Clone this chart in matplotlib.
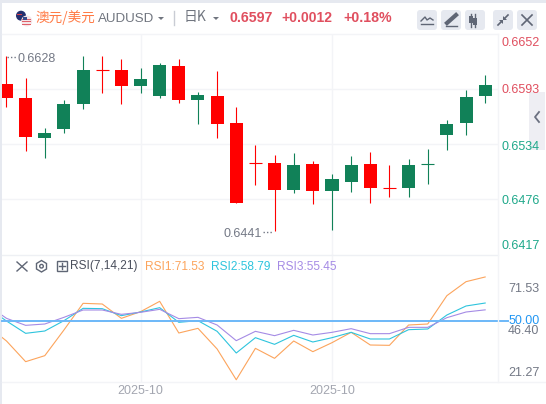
import matplotlib
matplotlib.use("Agg")
import matplotlib.pyplot as plt
from matplotlib.patches import Rectangle, FancyBboxPatch, Circle, Polygon

plt.rcParams['font.family'] = ['Liberation Sans', 'Noto Sans CJK SC', 'DejaVu Sans']

# K线数据
opens  = [0.6598,0.6583,0.6540,0.6550,0.6577,0.6614,0.6613,0.6596,0.6586,0.6618,0.6581,0.6586,0.6556,
          0.6515,0.6514,0.6485,0.6512,0.6484,0.6493,0.6512,0.6488,0.6487,0.6512,0.6544,0.6556,0.6585]
highs  = [0.6628,0.6605,0.6551,0.6581,0.6628,0.6628,0.6625,0.6615,0.6621,0.6625,0.6590,0.6612,0.6574,
          0.6533,0.6522,0.6524,0.6516,0.6502,0.6521,0.6525,0.6511,0.6518,0.6529,0.6560,0.6592,0.6608]
lows   = [0.6574,0.6526,0.6519,0.6546,0.6572,0.6589,0.6577,0.6589,0.6583,0.6578,0.6555,0.6540,0.6471,
          0.6490,0.6441,0.6481,0.6470,0.6442,0.6483,0.6471,0.6477,0.6477,0.6491,0.6528,0.6544,0.6578]
closes = [0.6583,0.6541,0.6546,0.6577,0.6613,0.6613,0.6596,0.6604,0.6619,0.6581,0.6587,0.6555,0.6471,
          0.6514,0.6485,0.6511,0.6484,0.6496,0.6511,0.6487,0.6487,0.6511,0.6513,0.6555,0.6584,0.6597]

# RSI数据，第一个点是左边界外的那根K线
rsi1 = [47.70,40.22,30.11,33.05,45.60,58.64,58.31,51.30,54.56,59.62,44.13,46.41,36.31,21.27,
        36.63,31.74,40.22,35.00,39.40,44.46,38.26,38.10,48.04,48.53,62.39,69.23,71.53]
rsi2 = [56.50,50.00,43.97,45.11,50.16,56.19,56.03,52.61,54.40,56.52,49.35,50.16,44.95,34.35,
        41.85,38.59,42.99,39.73,41.85,44.46,41.20,41.20,45.76,46.09,52.93,57.34,58.79]
rsi3 = [57.80,51.30,47.88,48.53,51.79,55.38,55.38,53.26,54.24,55.70,51.14,51.79,48.04,40.38,
        44.95,42.83,45.44,43.15,44.46,46.25,43.81,43.81,46.90,46.90,51.63,54.40,55.45]

price_grid = [0.6593, 0.6534, 0.6475]
price_labels = ['0.6652', '0.6593', '0.6534', '0.6476', '0.6417']
rsi_labels = ['71.53', '50.00', '46.40', '21.27']
date_ticks = [7, 17]
date_labels = ['2025-10', '2025-10']

W, H = 546, 404
fig = plt.figure(figsize=(W/100, H/100), dpi=100, facecolor='white')

def add_axes_px(x0, y0, x1, y1):
    return fig.add_axes([x0/W, 1-y1/H, (x1-x0)/W, (y1-y0)/H])

RED = '#ff0000'
GREEN = '#118158'
GRID = '#f3f4f7'

# 主图
ax = add_axes_px(2, 34, 498, 254.5)
xlim = (-0.235, 25.67)
for i in range(len(opens)):
    c = GREEN if closes[i] >= opens[i] else RED
    ax.vlines(i, lows[i], highs[i], color=c, lw=0.8, zorder=3)
    if abs(closes[i]-opens[i]) < 0.00015:
        # 十字星，实体只有一条线
        ax.hlines(closes[i], i-0.34, i+0.34, color=c, lw=0.8, zorder=3)
    else:
        ax.bar(i, abs(closes[i]-opens[i]), bottom=min(opens[i], closes[i]), width=0.68, color=c, lw=0, zorder=3)
ax.set_xlim(*xlim)
ax.set_ylim(0.64154, 0.66520)
ax.set_xticks(date_ticks)
ax.set_yticks(price_grid)
ax.grid(color=GRID, lw=1)
ax.set_axisbelow(True)
ax.tick_params(length=0, labelleft=False, labelbottom=False)
for s in ax.spines.values():
    s.set_visible(False)

# RSI副图
rsi_x = list(range(-1, 26))
ax2 = add_axes_px(2, 254.5, 498, 382)
ax2.plot(rsi_x, rsi1, color='#fca45c', lw=0.8, zorder=3)
ax2.plot(rsi_x, rsi2, color='#2ec4dd', lw=0.8, zorder=3)
ax2.plot(rsi_x, rsi3, color='#a58be5', lw=0.8, zorder=5)
ax2.set_xlim(*xlim)
ax2.set_ylim(50-(382-321)*0.489, 50+(321-254.5)*0.489)
ax2.set_xticks(date_ticks)
ax2.set_yticks([])
ax2.grid(axis='x', color=GRID, lw=1)
ax2.set_axisbelow(True)
ax2.tick_params(length=0, labelleft=False, labelbottom=False)
for s in ax2.spines.values():
    s.set_visible(False)

# 覆盖层，坐标单位是像素，放界面元素和文字
ov = fig.add_axes([0, 0, 1, 1], facecolor='none')
ov.set_xlim(0, W)
ov.set_ylim(H, 0)
ov.axis('off')

FRAME = '#e6e9f0'
ov.add_patch(Rectangle((0, 0), W, 2.7, color=FRAME, lw=0))
ov.add_patch(Rectangle((0, 0), 2, H, color=FRAME, lw=0))
ov.plot([2, 498], [34, 34], color=GRID, lw=1)
ov.plot([2, 498], [254.5, 254.5], color='#eef0f4', lw=1)
ov.plot([2, 546], [382, 382], color=GRID, lw=1)
ov.plot([498, 498], [34, 382], color=GRID, lw=1)
ov.plot([2, 508], [321, 321], color='#6db8f8', lw=1.4, zorder=1)

# 右侧收起按钮
ov.add_patch(Rectangle((529, 92), 16, 58, color='#eeeef3', lw=0))
ov.plot([539, 535, 539], [112, 117, 122], color='#6b7080', lw=1.3)

# 旗帜
ov.add_patch(Circle((21, 15.7), 5, color='#24306e', lw=0))
ov.add_patch(Rectangle((17, 14), 5, 1.2, color='#d8404a', lw=0))
ov.add_patch(Circle((26.7, 21), 5.5, color='#f4e4e6', lw=0))
for k in range(3):
    ov.add_patch(Rectangle((22.2, 18.5+k*2.5), 9.2, 1.2, color='#e0606a', lw=0))
ov.add_patch(Rectangle((22.5, 16.5), 4, 3, color='#3a4a8a', lw=0))

GRAY = '#70757f'
HRED = '#e04f5f'
CJK = ['Noto Sans CJK SC', 'DejaVu Sans']
ov.text(36, 18, '澳元/美元', color='#ff7a45', fontsize=9.8, va='center', family=CJK)
ov.text(98, 18.5, 'AUDUSD', color=GRAY, fontsize=9.6, va='center')
ov.add_patch(Polygon([[158, 17], [164, 17], [161, 20]], color=GRAY, lw=0))
ov.plot([174, 174], [11, 25], color='#c9ccd4', lw=1)
ov.text(184, 17.5, '日K', color=GRAY, fontsize=10, va='center', family=CJK)
ov.add_patch(Polygon([[213, 17], [219, 17], [216, 20]], color=GRAY, lw=0))
ov.text(229, 17.5, '0.6597', color=HRED, fontsize=10.2, fontweight='bold', va='center')
ov.text(281, 17.5, '+0.0012', color=HRED, fontsize=10, fontweight='bold', va='center')
ov.text(343, 17.5, '+0.18%', color=HRED, fontsize=10.2, fontweight='bold', va='center')

# 工具栏按钮
ICON = '#5f6675'
for bx in [417, 441, 465, 493, 517]:
    ov.add_patch(FancyBboxPatch((bx+2, 12), 16, 16, boxstyle='round,pad=2,rounding_size=3', color=FRAME, lw=0))
ov.plot([421, 425, 427, 430, 433], [21, 17, 20, 18, 20], color=ICON, lw=1)
ov.plot([421, 433], [24, 24], color=ICON, lw=1)
ov.plot([447, 456], [23, 15], color=ICON, lw=3)
ov.plot([446, 457], [25.5, 25.5], color=ICON, lw=1)
for cx, y0, y1 in [(471, 16, 23), (475, 18, 25)]:
    ov.plot([cx, cx], [14, 27], color=ICON, lw=1)
    ov.add_patch(Rectangle((cx-2, y0), 4, y1-y0, color=ICON, lw=0))
ov.plot([498, 502], [25, 21], color=ICON, lw=1.2)
ov.add_patch(Polygon([[499, 20], [503, 20], [503, 24]], color=ICON, lw=0))
ov.plot([504, 508], [19, 15], color=ICON, lw=1.2)
ov.add_patch(Polygon([[503, 20], [507, 20], [503, 16]], color=ICON, lw=0))
ov.plot([522, 532], [15, 25], color=ICON, lw=1.2)
ov.plot([522, 532], [25, 15], color=ICON, lw=1.2)

# 最高最低标注
TXT = '#737885'
ov.text(18, 58.5, '0.6628', color=TXT, fontsize=9, va='center')
ov.plot([7, 16], [56.5, 56.5], color=TXT, lw=1, ls=(0, (1, 1.5)))
ov.text(223, 234, '0.6441', color=TXT, fontsize=9, va='center')
ov.plot([263, 272], [232, 232], color=TXT, lw=1, ls=(0, (1, 1.5)))

# 价格轴文字
price_y = [42.5, 90, 146.5, 201.5, 246]
price_c = [HRED, HRED, '#1ea88a', '#1ea88a', '#1ea88a']
for lab, y, c in zip(price_labels, price_y, price_c):
    ov.text(540, y, lab, color=c, fontsize=9, ha='right', va='center', zorder=5)

# RSI轴文字
rsi_y = [288.5, 321, 331.5, 373.5]
rsi_c = [TXT, '#2196f3', TXT, TXT]
for lab, y, c in zip(rsi_labels, rsi_y, rsi_c):
    ov.text(539.5, y, lab, color=c, fontsize=9, ha='right', va='center', zorder=5)

# RSI标题
ov.plot([17, 27], [262, 271], color=ICON, lw=1)
ov.plot([17, 27], [271, 262], color=ICON, lw=1)
ov.add_patch(Polygon([[41.5, 260.5], [46.5, 263.5], [46.5, 269], [41.5, 272], [36.5, 269], [36.5, 263.5]],
                     fill=False, ec=ICON, lw=1))
ov.add_patch(Circle((41.5, 266.2), 1.8, fill=False, ec=ICON, lw=1))
ov.add_patch(Rectangle((56.5, 261), 10, 10, fill=False, ec=ICON, lw=1))
ov.plot([58.5, 64.5], [266, 266], color=ICON, lw=1)
ov.plot([61.5, 61.5], [263, 269], color=ICON, lw=1)
ov.text(70, 266.5, 'RSI(7,14,21)', color='#4a4f5c', fontsize=8.6, va='center')
ov.text(145, 266.5, 'RSI1:71.53', color='#fca45c', fontsize=8.6, va='center')
ov.text(211, 266.5, 'RSI2:58.79', color='#2ec4dd', fontsize=8.6, va='center')
ov.text(277, 266.5, 'RSI3:55.45', color='#a58be5', fontsize=8.6, va='center')

# 日期
for t, lab in zip(date_ticks, date_labels):
    x = 2 + (t-xlim[0])/(xlim[1]-xlim[0])*496
    ov.text(x, 390.5, lab, color='#a3a6b0', fontsize=9, ha='center', va='center')

fig.savefig('out.png', dpi=100)
